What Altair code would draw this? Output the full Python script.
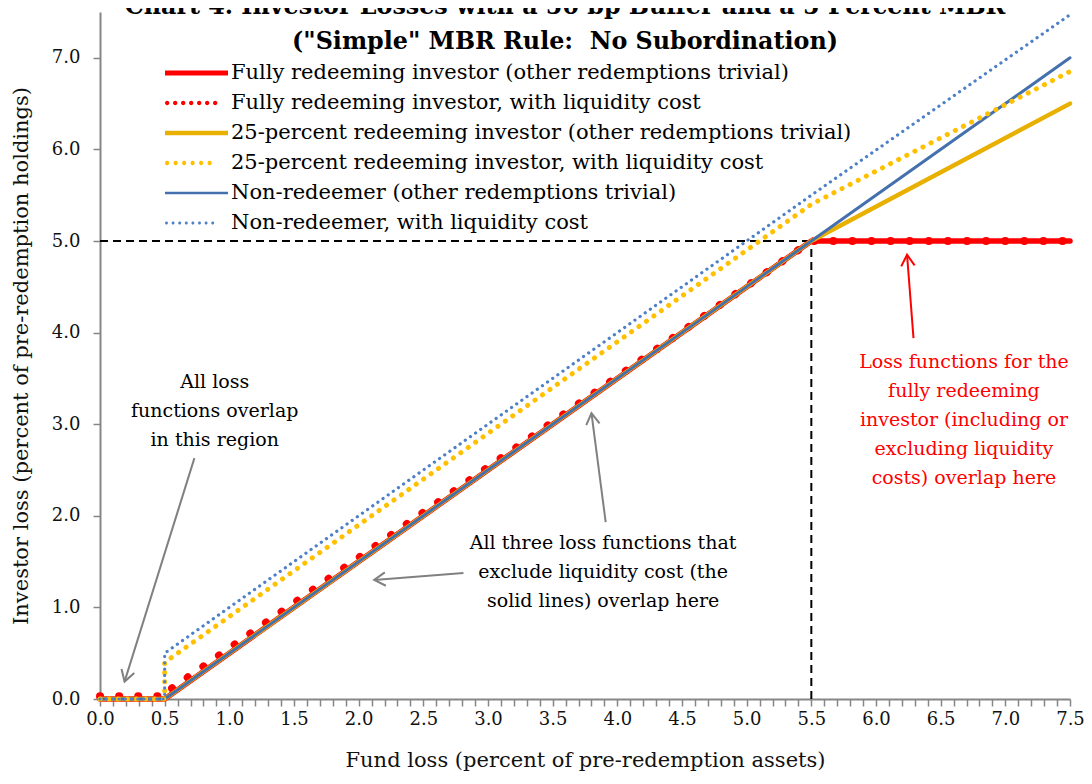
import math
import altair as alt
import pandas as pd

FONT = "DejaVu Serif"

# ---------------- data ----------------
fund_loss = [0.0, 0.5, 0.5, 5.5, 7.5]
full_redeem = [0.0, 0.0, 0.0, 5.0, 5.0]
full_redeem_liq = [0.03, 0.03, 0.06, 5.0, 5.0]
quarter_redeem = [0.0, 0.0, 0.0, 5.0, 6.5]
quarter_redeem_liq = [0.0, 0.0, 0.4, 5.4, 6.85]
non_redeem = [0.0, 0.0, 0.0, 5.0, 7.0]
non_redeem_liq = [0.0, 0.0, 0.5, 5.5, 7.47]

series_names = [
    "Fully redeeming investor (other redemptions trivial)",
    "Fully redeeming investor, with liquidity cost",
    "25-percent redeeming investor (other redemptions trivial)",
    "25-percent redeeming investor, with liquidity cost",
    "Non-redeemer (other redemptions trivial)",
    "Non-redeemer, with liquidity cost",
]
series_values = [full_redeem, full_redeem_liq, quarter_redeem,
                 quarter_redeem_liq, non_redeem, non_redeem_liq]

# styles
series_colors = ["#FF0000", "#FF0000", "#E8B000", "#FFC000", "#4470AE", "#4E80C8"]
series_dash = [None, [0.1, 19], None, [0.1, 9], None, [0.1, 6.2]]
series_width = [5.5, 8, 4.4, 5, 3, 3.2]
# legend symbol styles: (solid line width) or (dot radius, dot spacing) in px
legend_style = [("line", 5.0), ("dots", 2.2, 8.0), ("line", 4.5),
                ("dots", 2.1, 8.5), ("line", 2.6), ("dots", 1.5, 6.6)]

# guide lines (dashed)
guide_x = [0.0, 5.5]
guide_x2 = [5.5, 5.5]
guide_y = [5.0, 0.0]
guide_y2 = [5.0, 5.0]

# annotation arrows (start -> tip)
arrow_x0 = [0.73, 2.81, 3.91, 6.29]
arrow_y0 = [2.63, 1.375, 1.93, 3.94]
arrow_x1 = [0.19, 2.12, 3.80, 6.24]
arrow_y1 = [0.19, 1.30, 3.12, 4.85]
arrow_color = ["#808080", "#808080", "#808080", "#FF0000"]

ann_text = [
    ["All loss", "functions overlap", "in this region"],
    ["All three loss functions that", "exclude liquidity cost (the",
     "solid lines) overlap here"],
    ["Loss functions for the", "fully redeeming", "investor (including or",
     "excluding liquidity", "costs) overlap here"],
]
# position of the first line of each note
ann_x = [0.887, 3.89, 6.68]
ann_y = [3.46, 1.70, 3.68]
ann_color = ["black", "black", "#FF0000"]

title_lines = ["Chart 4. Investor Losses with a 50 bp Buffer and a 5 Percent MBR",
               "(\"Simple\" MBR Rule:\u00a0 No Subordination)"]
x_title = "Fund loss (percent of pre-redemption assets)"
y_title = "Investor loss (percent of pre-redemption holdings)"

XMAX, YMAX = 7.5, 7.5
W, H = 970, 687

# ---------------- build tables ----------------
rows = []
for name, vals in zip(series_names, series_values):
    for i, (xv, yv) in enumerate(zip(fund_loss, vals)):
        rows.append({"x": xv, "y": yv, "series": name, "idx": i})
df = pd.DataFrame(rows)

x_scale = alt.Scale(domain=[0, XMAX], nice=False, zero=False)
y_scale = alt.Scale(domain=[0, YMAX], nice=False, zero=False)

x_ticks = [round(i * 0.1, 1) for i in range(76)]

x_axis = alt.Axis(
    values=x_ticks, tickCount=200, labelOverlap=False, labelFlush=False,
    labelExpr="abs(datum.value*2 - round(datum.value*2)) < 0.001 ? format(datum.value, '.1f') : ''",
    title=x_title, titlePadding=21, labelPadding=4,
)
y_axis = alt.Axis(values=[0, 1, 2, 3, 4, 5, 6, 7], format=".1f",
                  title=y_title, titlePadding=20, labelPadding=13)

# ---------------- legend symbols (custom paths) ----------------
SYM_LEN = 63.0
HALF = SYM_LEN / 2.0


def fmt(v):
    return f"{v:.4f}"


def legend_path(style):
    if style[0] == "line":
        h = style[1] / 2.0 / HALF
        return f"M-1,{fmt(-h)}L1,{fmt(-h)}L1,{fmt(h)}L-1,{fmt(h)}Z"
    r_px, sp_px = style[1], style[2]
    r = r_px / HALF
    parts = []
    cx = -1 + r
    while cx + r <= 1.0001 - 0.25:
        parts.append(f"M{fmt(cx - r)},0a{fmt(r)},{fmt(r)} 0 1,0 {fmt(2 * r)},0"
                     f"a{fmt(r)},{fmt(r)} 0 1,0 {fmt(-2 * r)},0Z")
        cx += sp_px / HALF
    return "".join(parts)


legend_paths = [legend_path(s) for s in legend_style]

legend = alt.Legend(
    orient="none", legendX=65, legendY=48, title=None,
    symbolSize=SYM_LEN ** 2, symbolStrokeWidth=0, labelFont=FONT, labelFontSize=21,
    labelColor="black", labelOffset=3, rowPadding=4, clipHeight=26, padding=0,
    labelLimit=800,
)

legend_layer = alt.Chart(df).transform_filter("false").mark_point(
    filled=True, opacity=1).encode(
    x=alt.X("x:Q", scale=x_scale, axis=x_axis),
    y=alt.Y("y:Q", scale=y_scale, axis=y_axis),
    color=alt.Color("series:N", scale=alt.Scale(domain=series_names, range=series_colors),
                    legend=legend, sort=series_names),
    shape=alt.Shape("series:N", scale=alt.Scale(domain=series_names, range=legend_paths),
                    legend=legend, sort=series_names),
)

# ---------------- lines ----------------
draw_order = [0, 1, 2, 4, 3, 5]
line_layers = []
for k in draw_order:
    props = dict(color=series_colors[k], strokeWidth=series_width[k],
                 strokeCap="round", strokeJoin="round")
    if series_dash[k] is not None:
        props["strokeDash"] = series_dash[k]
    line_layers.append(
        alt.Chart(df).transform_filter(alt.datum.series == series_names[k])
        .mark_line(**props)
        .encode(x=alt.X("x:Q", scale=x_scale, axis=x_axis),
                y=alt.Y("y:Q", scale=y_scale, axis=y_axis),
                order=alt.Order("idx:Q"))
    )

guide_df = pd.DataFrame({"x": guide_x, "x2": guide_x2, "y": guide_y, "y2": guide_y2})
guides = alt.Chart(guide_df).mark_rule(color="black", strokeWidth=2, strokeDash=[8, 5]).encode(
    x=alt.X("x:Q", scale=x_scale, axis=x_axis), x2="x2:Q",
    y=alt.Y("y:Q", scale=y_scale, axis=y_axis), y2="y2:Q",
)

# ---------------- arrows ----------------
angles = []
for x0, y0, x1, y1 in zip(arrow_x0, arrow_y0, arrow_x1, arrow_y1):
    dx = (x1 - x0) * W / XMAX
    dy = -(y1 - y0) * H / YMAX
    angles.append(math.degrees(math.atan2(dy, dx)) % 360)
arrow_df = pd.DataFrame({"x0": arrow_x0, "y0": arrow_y0, "x1": arrow_x1,
                         "y1": arrow_y1, "c": arrow_color, "ang": angles})
arrow_layers = []
for col in dict.fromkeys(arrow_color):
    base = alt.Chart(arrow_df).transform_filter(alt.datum.c == col)
    arrow_layers.append(base.mark_rule(strokeWidth=2, color=col).encode(
        x=alt.X("x0:Q", scale=x_scale, axis=x_axis), x2="x1:Q",
        y=alt.Y("y0:Q", scale=y_scale, axis=y_axis), y2="y1:Q",
    ))
    arrow_layers.append(base.mark_point(
        shape="M-1,-0.6L0,0L-1,0.6", filled=False, size=500, strokeWidth=2,
        opacity=1, color=col,
    ).encode(
        x=alt.X("x1:Q", scale=x_scale, axis=x_axis),
        y=alt.Y("y1:Q", scale=y_scale, axis=y_axis),
        angle=alt.Angle("ang:Q", scale=None),
    ))

# ---------------- notes ----------------
ann_layers = []
for t, ax, ay, c in zip(ann_text, ann_x, ann_y, ann_color):
    adf = pd.DataFrame({"x": [ax], "y": [ay]})
    ann_layers.append(
        alt.Chart(adf).mark_text(text=t, font=FONT, fontSize=19, lineHeight=29,
                                 color=c, align="center", baseline="middle")
        .encode(x=alt.X("x:Q", scale=x_scale, axis=x_axis),
                y=alt.Y("y:Q", scale=y_scale, axis=y_axis))
    )

chart = alt.layer(guides, *line_layers, *arrow_layers, *ann_layers, legend_layer).properties(
    width=W, height=H,
    title=alt.TitleParams(text=title_lines, font=FONT, fontSize=23.8, fontWeight="bold",
                          color="black", anchor="middle", offset=-42, lineHeight=35, dx=-20),
    autosize=alt.AutoSizeParams(type="none"),
    padding={"left": 92, "top": 4, "right": 14, "bottom": 75},
).configure_view(stroke=None).configure_axis(
    grid=False, domainColor="#868686", domainWidth=2, tickColor="#868686",
    tickWidth=1.5, tickSize=7, labelFont=FONT, labelFontSize=18, labelColor="#111111",
    titleFont=FONT, titleFontSize=21, titleFontWeight="normal",
    titleColor="#111111",
)

chart.save("out.html", embed_options={"renderer": "svg", "actions": False})
